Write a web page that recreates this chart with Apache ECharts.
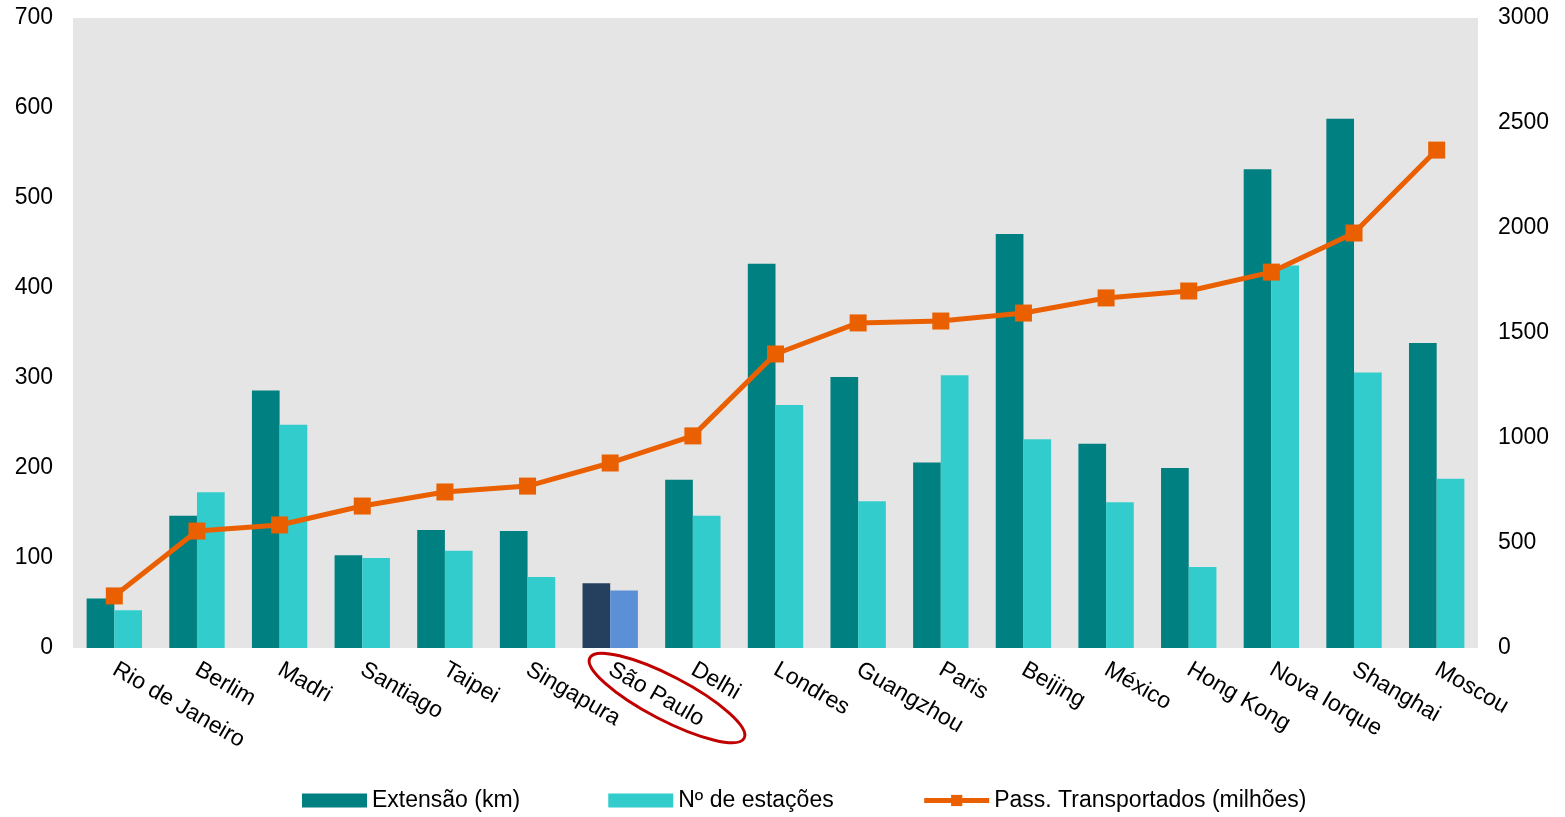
<!DOCTYPE html>
<html>
<head>
<meta charset="utf-8">
<script src="https://cdn.jsdelivr.net/npm/echarts@6/dist/echarts.min.js"></script>
<style>
	html, body { margin: 0; padding: 0; background: #fff; }
	#chart { width: 1565px; height: 817px; }
</style>
</head>
<body>
<div id="chart"></div>
<script>
const cities = ['Rio de Janeiro', 'Berlim', 'Madri', 'Santiago', 'Taipei', 'Singapura', 'São Paulo', 'Delhi', 'Londres', 'Guangzhou', 'Paris', 'Beijing', 'México', 'Hong Kong', 'Nova Iorque', 'Shanghai', 'Moscou']
const extensao = [55, 147, 286, 103, 131, 130, 72, 187, 427, 301, 206, 460, 227, 200, 532, 588, 339]
const estacoes = [42, 173, 248, 100, 108, 79, 64, 147, 270, 163, 303, 232, 162, 90, 425, 306, 188]
const passageiros = [248, 557, 586, 676, 743, 771, 881, 1010, 1400, 1548, 1557, 1595, 1667, 1700, 1790, 1976, 2371]

const highlight = 'São Paulo'
const font = 'Liberation Sans, Arial, sans-serif'

const chart = echarts.init(document.getElementById('chart'))

const paint = (values, special) => values.map((v, i) =>
	cities[i] === highlight ? { value: v, itemStyle: { color: special } } : v)

chart.setOption({
	animation: false,
	textStyle: { fontFamily: font },
	grid: { left: 73, right: 87, top: 18, bottom: 169, show: true, backgroundColor: '#e5e5e5', borderWidth: 0 },
	legend: {
		bottom: 0,
		left: 297,
		itemWidth: 65,
		itemHeight: 14,
		itemGap: 88,
		lineStyle: { width: 5 },
		textStyle: { fontSize: 23, color: '#000', fontFamily: font },
		data: [
			{ name: 'Extensão (km)', icon: 'rect' },
			{ name: 'Nº de estações', icon: 'rect' },
			'Pass. Transportados (milhões)',
		],
	},
	xAxis: {
		type: 'category',
		data: cities,
		axisLine: { show: false },
		axisTick: { show: false },
		axisLabel: { rotate: -30, fontSize: 23, color: '#000', margin: 20, interval: 0 },
	},
	yAxis: [
		{
			type: 'value', min: 0, max: 700, interval: 100,
			splitLine: { show: false },
			axisLabel: { fontSize: 23, color: '#000', margin: 20 },
		},
		{
			type: 'value', min: 0, max: 3000, interval: 500,
			splitLine: { show: false },
			axisLabel: { fontSize: 23, color: '#000', margin: 20, formatter: (v) => String(v) },
		},
	],
	series: [
		{
			name: 'Extensão (km)',
			type: 'bar',
			barGap: '0%',
			barCategoryGap: '33%',
			itemStyle: { color: '#008080' },
			data: paint(extensao, '#253f5f'),
		},
		{
			name: 'Nº de estações',
			type: 'bar',
			itemStyle: { color: '#33cccc' },
			data: paint(estacoes, '#5b8fd6'),
		},
		{
			name: 'Pass. Transportados (milhões)',
			type: 'line',
			yAxisIndex: 1,
			symbol: 'rect',
			symbolSize: 17,
			lineStyle: { color: '#ea6000', width: 5 },
			itemStyle: { color: '#ea6000' },
			data: passageiros,
		},
	],
	graphic: [
		{
			type: 'ellipse',
			x: 667,
			y: 698,
			rotation: -0.48,
			shape: { cx: 0, cy: 0, rx: 87, ry: 22 },
			style: { fill: 'none', stroke: '#c00000', lineWidth: 3 },
		},
	],
})

window.addEventListener('resize', () => {
	chart.resize()
})
</script>
</body>
</html>
